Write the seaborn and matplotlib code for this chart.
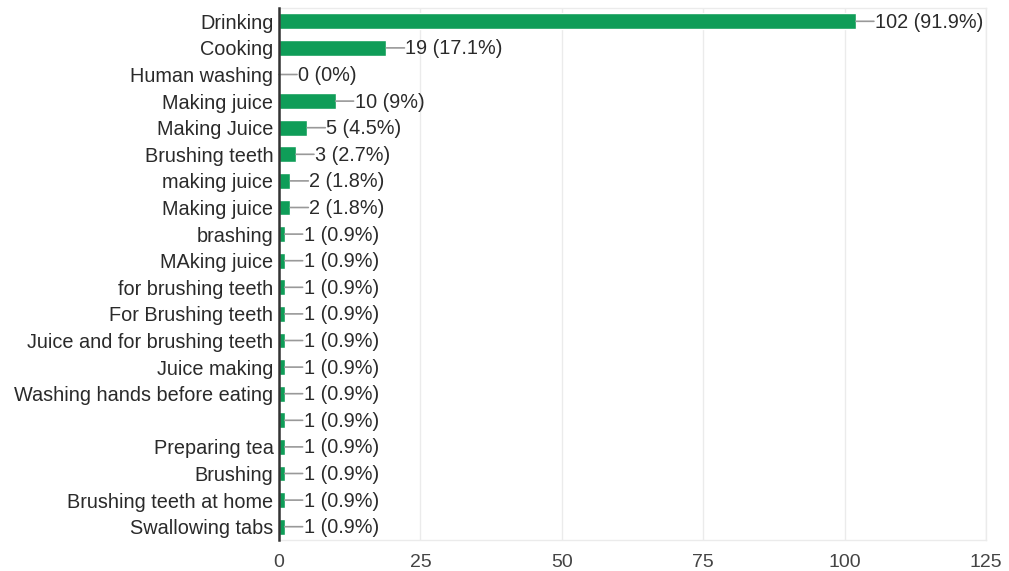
import pandas as pd
import matplotlib.pyplot as plt
import seaborn as sns

# Survey answers (duplicate spellings kept as separate rows, like the form export)
labels = [
    "Drinking", "Cooking", "Human washing", "Making juice", "Making Juice",
    "Brushing teeth", "making juice", "Making juice", "brashing", "MAking juice",
    "for brushing teeth", "For Brushing teeth", "Juice and for brushing teeth",
    "Juice making", "Washing hands before eating", "", "Preparing tea",
    "Brushing", "Brushing teeth at home", "Swallowing tabs",
]
counts = [102, 19, 0, 10, 5, 3, 2, 2, 1, 1, 1, 1, 1, 1, 1, 1, 1, 1, 1, 1]
percents = ["91.9%", "17.1%", "0%", "9%", "4.5%", "2.7%", "1.8%", "1.8%",
            "0.9%", "0.9%", "0.9%", "0.9%", "0.9%", "0.9%", "0.9%", "0.9%",
            "0.9%", "0.9%", "0.9%", "0.9%"]
x_ticks = [0, 25, 50, 75, 100, 125]

# unique row keys so repeated answers stay on their own bar
df = pd.DataFrame({"row": [f"r{i}" for i in range(len(labels))], "count": counts})

sns.set_theme(style="white")
plt.rcParams["font.family"] = ["Liberation Sans", "DejaVu Sans"]

fig = plt.figure(figsize=(10.09, 5.71), dpi=100)
ax = fig.add_axes([279 / 1009, 1 - 540 / 571, (986 - 279) / 1009, (540 - 8) / 571])

sns.barplot(data=df, x="count", y="row", orient="h", color="#0f9d58",
            width=0.6, saturation=1, ax=ax, zorder=3)

ax.set_xlim(0, 125)
ax.set_ylim(len(labels) - 0.5, -0.5)
ax.set_xticks(x_ticks)
ax.set_xticklabels([str(t) for t in x_ticks], fontsize=14, color="#444444")
ax.set_yticks(range(len(labels)))
ax.set_yticklabels(labels, fontsize=14.3, color="#2a2a2a")
ax.tick_params(axis="x", length=0, pad=10)
ax.tick_params(axis="y", length=0, pad=4)
ax.set_xlabel("")
ax.set_ylabel("")

ax.grid(axis="x", color="#ebebeb", linewidth=1, zorder=0)
for side in ["top", "right", "bottom"]:
    ax.spines[side].set_color("#ebebeb")
    ax.spines[side].set_linewidth(1)
ax.spines["left"].set_color("#333333")
ax.spines["left"].set_linewidth(1.8)
ax.spines["left"].set_zorder(5)

# value labels with a short grey leader line
for i, (c, p) in enumerate(zip(counts, percents)):
    ax.annotate("", xy=(c, i), xytext=(18, 0), textcoords="offset pixels",
                arrowprops=dict(arrowstyle="-", color="#999999", lw=1.2,
                                shrinkA=0, shrinkB=0))
    ax.annotate(f"{c} ({p})", xy=(c, i), xytext=(19, -1), textcoords="offset pixels",
                ha="left", va="center", fontsize=14.3, color="#2a2a2a")

fig.savefig("out.png", dpi=100)
plt.close(fig)
